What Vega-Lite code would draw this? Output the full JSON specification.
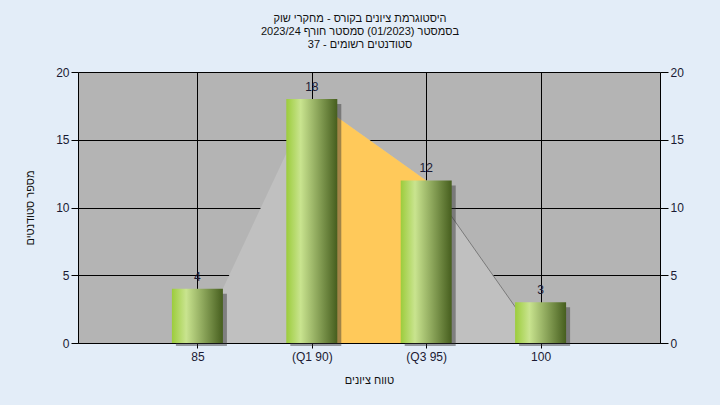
{
  "$schema": "https://vega.github.io/schema/vega-lite/v6.json",
  "width": 582,
  "height": 271,
  "autosize": {"type": "none"},
  "padding": {"left": 78, "top": 72, "right": 60, "bottom": 62},
  "background": "#e3edf8",
  "title": {
    "text": ["היסטוגרמת ציונים בקורס - מחקרי שוק", "בסמסטר  (01/2023)  סמסטר חורף 2023/24", "סטודנטים רשומים - 37"],
    "anchor": "middle",
    "dx": -9,
    "fontSize": 11,
    "fontWeight": "normal",
    "font": "Liberation Sans",
    "color": "#111111",
    "lineHeight": 13,
    "offset": 16
  },
  "config": {
    "view": {"fill": "#b4b4b4", "stroke": null},
    "font": "Liberation Sans",
    "axis": {
      "tickColor": "#000000",
      "domainColor": "#000000",
      "gridColor": "#000000",
      "gridOpacity": 1,
      "tickSize": 5,
      "labelFont": "Liberation Sans",
      "labelFontSize": 12,
      "labelColor": "#1a1a33",
      "titleFont": "Liberation Sans",
      "titleFontSize": 11,
      "titleFontWeight": "normal",
      "titleColor": "#111111"
    }
  },
  "datasets": {
    "bars": [
      {"grade": 85, "value": 4},
      {"grade": 90, "value": 18},
      {"grade": 95, "value": 12},
      {"grade": 100, "value": 3}
    ],
    "curve": [
      {"grade": 85, "value": 0},
      {"grade": 90, "value": 18},
      {"grade": 95, "value": 12},
      {"grade": 100, "value": 0}
    ],
    "iqr": [
      {"grade": 90, "value": 18},
      {"grade": 95, "value": 12}
    ],
    "tail": [
      {"grade": 95, "value": 12},
      {"grade": 100, "value": 0}
    ]
  },
  "encoding": {
    "x": {
      "field": "grade",
      "type": "quantitative",
      "scale": {"domain": [80, 105], "nice": false, "zero": false},
      "axis": {
        "values": [85, 90, 95, 100],
        "labelExpr": "datum.value == 90 ? '(Q1 90)' : datum.value == 95 ? '(Q3 95)' : datum.label",
        "grid": true,
        "labelPadding": 3,
        "title": "טווח ציונים",
        "titlePadding": 12
      }
    }
  },
  "layer": [
    {
      "encoding": {
        "y": {
          "field": "value",
          "type": "quantitative",
          "scale": {"domain": [0, 20], "nice": false},
          "axis": {
            "orient": "left",
            "values": [0, 5, 10, 15, 20],
            "grid": true,
            "tickSize": 7,
            "labelPadding": 2,
            "title": "מספר סטודנטים",
            "titlePadding": 20
          }
        }
      },
      "layer": [
        {
          "data": {"name": "curve"},
          "mark": {"type": "area", "color": "#c0c0c0", "opacity": 1}
        },
        {
          "data": {"name": "iqr"},
          "mark": {"type": "area", "color": "#ffc95a", "opacity": 1}
        },
        {
          "data": {"name": "tail"},
          "mark": {"type": "line", "color": "#7a7a7a", "strokeWidth": 1}
        },
        {
          "data": {"name": "bars"},
          "mark": {"type": "bar", "width": 51, "color": "#303030", "opacity": 0.45, "xOffset": 4, "yOffset": 5, "y2Offset": 3},
          "encoding": {"y2": {"datum": 0}}
        },
        {
          "data": {"name": "bars"},
          "mark": {
            "type": "bar",
            "width": 51,
            "color": {
              "gradient": "linear",
              "x1": 0, "x2": 1, "y1": 0, "y2": 0,
              "stops": [
                {"offset": 0, "color": "#9ccc3c"},
                {"offset": 0.28, "color": "#c9e48f"},
                {"offset": 1, "color": "#465e1e"}
              ]
            }
          },
          "encoding": {"y2": {"datum": 0}}
        },
        {
          "data": {"values": [{"note": "במשימה : ציון סופי במערכת האקדמית במחשב המרכזי"}]},
          "mark": {"type": "text", "fontSize": 12, "color": "#1a1a33", "baseline": "middle", "align": "center"},
          "encoding": {
            "x": {"datum": 92.5},
            "y": {"datum": 19.1},
            "text": {"field": "note"}
          }
        }
      ]
    },
    {
      "data": {"name": "bars"},
      "mark": {"type": "text", "fontSize": 12, "color": "#1a1a33", "baseline": "bottom", "dy": -5},
      "encoding": {
        "y": {
          "field": "value",
          "type": "quantitative",
          "scale": {"domain": [0, 20], "nice": false},
          "axis": {
            "orient": "right",
            "values": [0, 5, 10, 15, 20],
            "grid": false,
            "tickSize": 8,
            "labelPadding": 2,
            "title": null
          }
        },
        "text": {"field": "value"}
      }
    }
  ],
  "resolve": {"axis": {"y": "independent"}}
}
